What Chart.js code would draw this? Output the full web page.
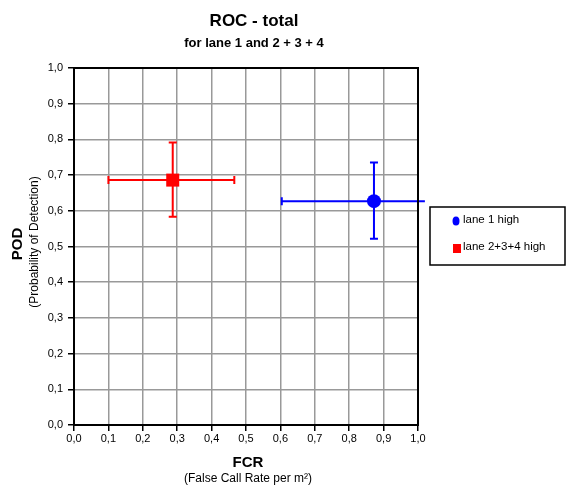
<!DOCTYPE html>
<html>
<head>
<meta charset="utf-8">
<script src="https://cdn.jsdelivr.net/npm/chart.js@4.4.0/dist/chart.umd.min.js"></script>
<style>
  html, body { margin: 0; padding: 0; background: #fff; }
  #wrap { width: 569px; height: 488px; position: relative; }
</style>
</head>
<body>
<div id="wrap"><canvas id="roc"></canvas></div>
<script>
// Series
var seriesNames = ["lane 1 high", "lane 2+3+4 high"];
var seriesColors = ["#0000ff", "#ff0000"];
var fcrValues = [0.872, 0.287];
var podValues = [0.627, 0.686];
// error bar ends
var fcrLow = [0.604, 0.100];
var fcrHigh = [1.02, 0.466];
var podLow = [0.522, 0.583];
var podHigh = [0.735, 0.791];
var tickValues = [0, 0.1, 0.2, 0.3, 0.4, 0.5, 0.6, 0.7, 0.8, 0.9, 1.0];

var FONT = "'Liberation Sans', Arial, sans-serif";

function fmt(v) {
    return Number(v).toFixed(1).replace('.', ',');
}

/**
 * Error bars, frame, titles and the boxed legend
 */
var decorations = {
    id: 'decorations',
    beforeDatasetsDraw: function(chart) {
        var ctx = chart.ctx;
        var xs = chart.scales.x, ys = chart.scales.y;
        ctx.save();
        ctx.lineWidth = 2;
        for (var i = 0; i < fcrValues.length; i++) {
            var cx = xs.getPixelForValue(fcrValues[i]);
            var cy = ys.getPixelForValue(podValues[i]);
            var x0 = xs.getPixelForValue(fcrLow[i]);
            var x1 = xs.getPixelForValue(fcrHigh[i]);
            var y0 = ys.getPixelForValue(podLow[i]);
            var y1 = ys.getPixelForValue(podHigh[i]);
            ctx.strokeStyle = seriesColors[i];
            ctx.beginPath();
            ctx.moveTo(x0, cy); ctx.lineTo(x1, cy);
            ctx.moveTo(cx, y0); ctx.lineTo(cx, y1);
            // caps (only where the end sits inside the axis range)
            if (fcrLow[i] <= 1) { ctx.moveTo(x0, cy - 4); ctx.lineTo(x0, cy + 4); }
            if (fcrHigh[i] <= 1) { ctx.moveTo(x1, cy - 4); ctx.lineTo(x1, cy + 4); }
            ctx.moveTo(cx - 4, y0); ctx.lineTo(cx + 4, y0);
            ctx.moveTo(cx - 4, y1); ctx.lineTo(cx + 4, y1);
            ctx.stroke();
        }
        ctx.restore();
    },
    afterDraw: function(chart) {
        var ctx = chart.ctx;
        var a = chart.chartArea;
        ctx.save();

        // black frame round the plot
        ctx.strokeStyle = '#000';
        ctx.lineWidth = 2;
        ctx.strokeRect(a.left, a.top, a.right - a.left, a.bottom - a.top);

        // titles
        ctx.fillStyle = '#000';
        ctx.textAlign = 'center';
        ctx.textBaseline = 'middle';
        ctx.font = 'bold 17px ' + FONT;
        ctx.fillText('ROC - total', 254, 21);
        ctx.font = 'bold 13px ' + FONT;
        ctx.fillText('for lane 1 and 2 + 3 + 4', 254, 43);

        // x axis title
        var mid = (a.left + a.right) / 2;
        ctx.font = 'bold 15px ' + FONT;
        ctx.fillText('FCR', mid + 2, 463);
        ctx.font = '12px ' + FONT;
        ctx.fillText('(False Call Rate per m\u00b2)', mid + 2, 479);

        // y axis title
        ctx.save();
        ctx.translate(18, 244);
        ctx.rotate(-Math.PI / 2);
        ctx.font = 'bold 15px ' + FONT;
        ctx.fillText('POD', 0, 0);
        ctx.restore();
        ctx.save();
        ctx.translate(35, 242);
        ctx.rotate(-Math.PI / 2);
        ctx.font = '12px ' + FONT;
        ctx.fillText('(Probability of Detection)', 0, 0);
        ctx.restore();

        // legend box
        ctx.lineWidth = 1.5;
        ctx.strokeRect(430, 207, 135, 58);
        ctx.textAlign = 'left';
        ctx.font = '11.5px ' + FONT;
        var rows = [220, 247];
        for (var i = 0; i < seriesNames.length; i++) {
            ctx.fillStyle = seriesColors[i];
            if (i === 0) {
                ctx.beginPath();
                ctx.ellipse(456, rows[i] + 1, 3.5, 4.5, 0, 0, Math.PI * 2);
                ctx.fill();
            } else {
                ctx.fillRect(453, rows[i] - 3, 8, 9);
            }
            ctx.fillStyle = '#000';
            ctx.fillText(seriesNames[i], 463, rows[i]);
        }
        ctx.restore();
    }
};

var datasets = [];
for (var i = 0; i < seriesNames.length; i++) {
    datasets.push({
        label: seriesNames[i],
        data: [{ x: fcrValues[i], y: podValues[i] }],
        backgroundColor: seriesColors[i],
        borderColor: seriesColors[i],
        pointStyle: i === 0 ? 'circle' : 'rect',
        pointRadius: i === 0 ? 7 : 9.2,
        borderWidth: 0
    });
}

function axis(pos) {
    return {
        type: 'linear',
        position: pos,
        min: 0,
        max: 1,
        afterBuildTicks: function(scale) {
            scale.ticks = tickValues.map(function(v) { return { value: v }; });
        },
        ticks: {
            color: '#000',
            font: { family: FONT, size: 11 },
            padding: pos === 'left' ? 5 : 1,
            maxRotation: 0,
            callback: function(v) { return fmt(v); }
        },
        grid: {
            color: '#999999',
            lineWidth: 1.5,
            tickColor: '#000',
            tickLength: 6
        },
        border: { color: '#000', width: 2 },
        afterFit: function(scale) {
            if (pos === 'left') scale.width = 74;
            else scale.height = 63;
        }
    };
}

new Chart(document.getElementById('roc'), {
    type: 'scatter',
    data: { datasets: datasets },
    options: {
        responsive: true,
        maintainAspectRatio: false,
        animation: false,
        layout: { padding: { left: 0, right: 151, top: 68, bottom: 0 } },
        plugins: {
            legend: { display: false },
            tooltip: { enabled: false }
        },
        scales: {
            x: axis('bottom'),
            y: axis('left')
        }
    },
    plugins: [decorations]
});
</script>
</body>
</html>
